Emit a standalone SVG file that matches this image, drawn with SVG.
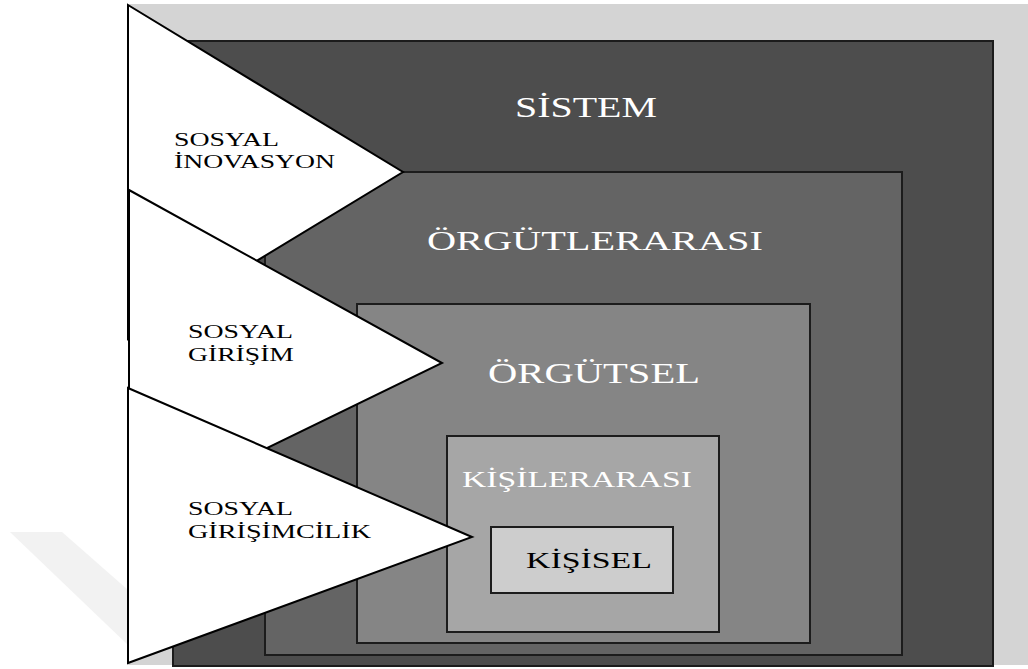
<svg xmlns="http://www.w3.org/2000/svg" width="1028" height="669" viewBox="0 0 1028 669">
  <style>
    .lvl { stroke: #1c1c1c; stroke-width: 2; }
    .wedge { fill: #ffffff; stroke: #000000; stroke-width: 2; stroke-linejoin: miter; }
    .t { font-family: "Liberation Serif", "Times New Roman", serif; }
    .light { fill: #ffffff; }
    .dark { fill: #000000; }
  </style>

  <!-- page background and backdrop panel -->
  <rect x="0" y="0" width="1028" height="669" fill="#ffffff"/>
  <polygon points="10,532 62,532 128,590 128,645" fill="#f2f2f2"/>
  <rect x="128" y="4" width="900" height="661" fill="#d4d4d4"/>

  <!-- nested levels; labels are widened horizontally -->
  <g id="sistem">
    <rect class="lvl" x="173" y="41" width="820" height="625" fill="#4d4d4d"/>
    <text class="t light" transform="translate(515,117) scale(1.42,1)" font-size="29" textLength="100" lengthAdjust="spacingAndGlyphs">SİSTEM</text>
  </g>
  <g id="orgutlerarasi">
    <rect class="lvl" x="265" y="172" width="637" height="483" fill="#646464"/>
    <text class="t light" transform="translate(427,250) scale(1.42,1)" font-size="28" textLength="236.6" lengthAdjust="spacingAndGlyphs">ÖRGÜTLERARASI</text>
  </g>
  <g id="orgutsel">
    <rect class="lvl" x="357" y="304" width="453" height="339" fill="#858585"/>
    <text class="t light" transform="translate(488,383) scale(1.42,1)" font-size="29" textLength="149.3" lengthAdjust="spacingAndGlyphs">ÖRGÜTSEL</text>
  </g>
  <g id="kisilerarasi">
    <rect class="lvl" x="447" y="436" width="272" height="196" fill="#a6a6a6"/>
    <text class="t light" transform="translate(462,487) scale(1.42,1)" font-size="23" textLength="162" lengthAdjust="spacingAndGlyphs">KİŞİLERARASI</text>
  </g>
  <g id="kisisel">
    <rect class="lvl" x="491" y="527" width="182" height="66" fill="#cdcdcd"/>
    <text class="t dark" transform="translate(526,568) scale(1.42,1)" font-size="24" textLength="88.7" lengthAdjust="spacingAndGlyphs">KİŞİSEL</text>
  </g>

  <!-- wedges on the left -->
  <g id="sosyal-inovasyon">
    <polygon class="wedge" points="128,5 403,172 128,339"/>
    <text class="t dark" transform="translate(174,146) scale(1.42,1)" font-size="19" textLength="74" lengthAdjust="spacingAndGlyphs">SOSYAL</text>
    <text class="t dark" transform="translate(174,168) scale(1.42,1)" font-size="19" textLength="113.4" lengthAdjust="spacingAndGlyphs">İNOVASYON</text>
  </g>
  <g id="sosyal-girisim">
    <polygon class="wedge" points="129,190 442,363 129,515"/>
    <text class="t dark" transform="translate(188,338) scale(1.42,1)" font-size="19" textLength="74" lengthAdjust="spacingAndGlyphs">SOSYAL</text>
    <text class="t dark" transform="translate(188,361) scale(1.42,1)" font-size="19" textLength="74.6" lengthAdjust="spacingAndGlyphs">GİRİŞİM</text>
  </g>
  <g id="sosyal-girisimcilik">
    <polygon class="wedge" points="128,388 472,537 128,663"/>
    <text class="t dark" transform="translate(188,515) scale(1.42,1)" font-size="19" textLength="74" lengthAdjust="spacingAndGlyphs">SOSYAL</text>
    <text class="t dark" transform="translate(188,538) scale(1.42,1)" font-size="19" textLength="128.9" lengthAdjust="spacingAndGlyphs">GİRİŞİMCİLİK</text>
  </g>
</svg>
